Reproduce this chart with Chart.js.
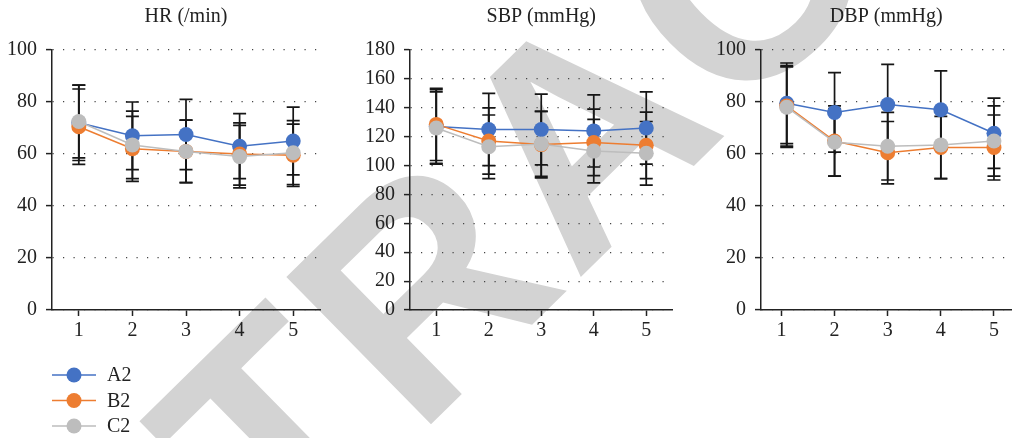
<!DOCTYPE html>
<html>
<head>
<meta charset="utf-8">
<script src="https://cdn.jsdelivr.net/npm/chart.js@4.4.1/dist/chart.umd.min.js"></script>
<style>
  body { margin: 0; background: #fff; }
  #wrap { position: relative; width: 1019px; height: 438px; overflow: hidden; background: #fff; }
  #stamp {
    position: absolute; left: 582px; top: 130px;
    transform: translate(-50%, -50%) rotate(-44.5deg);
    font: bold 300px "Liberation Sans", Arial, sans-serif;
    letter-spacing: 6px;
    line-height: 1; color: #d3d3d3; white-space: nowrap; z-index: 0;
  }
  canvas { position: absolute; top: 0; z-index: 1; }
</style>
</head>
<body>
<div id="wrap">
  <div id="stamp">RETRACTED</div>
  <canvas id="hr" width="340" height="438" style="left:0px"></canvas>
  <canvas id="sbp" width="340" height="340" style="left:340px"></canvas>
  <canvas id="dbp" width="339" height="340" style="left:680px"></canvas>
</div>
<script>
// time points
const timePoints = [1, 2, 3, 4, 5];
const dbpX = [1.1, 2, 3, 4, 5];   // first DBP group is drawn a bit right of tick 1
const seriesNames = ['A2', 'B2', 'C2'];
const seriesColors = ['#4472c4', '#ed7d31', '#bdbdbd'];

// HR (/min), mean and SD
const hrA2 = [72, 67, 67.5, 63, 65];
const hrA2Sd = [14.5, 13, 13.5, 12.5, 13];
const hrB2 = [70.5, 62, 61, 60, 59.5];
const hrB2Sd = [14.5, 12.5, 12, 12, 12];
const hrC2 = [72.5, 63.5, 61, 59, 60.5];
const hrC2Sd = [14, 13, 12, 12, 12.3];

// SBP (mmHg)
const sbpA2 = [127, 125, 125, 124, 126];
const sbpA2Sd = [25.5, 25, 24.5, 25, 25];
const sbpB2 = [128.5, 117, 114.5, 116, 114];
const sbpB2Sd = [25, 23, 23, 23, 23];
const sbpC2 = [126, 113, 115, 110, 108.5];
const sbpC2Sd = [25, 22, 22.5, 22, 22];

// DBP (mmHg)
const dbpA2 = [79.5, 76, 79, 77, 68];
const dbpA2Sd = [15.5, 15.3, 15.5, 15, 13.5];
const dbpB2 = [78.5, 65, 60.5, 62.5, 62.5];
const dbpB2Sd = [15.5, 13.5, 12, 12, 12.5];
const dbpC2 = [78, 64.5, 63, 63.5, 65];
const dbpC2Sd = [15.5, 13, 13, 13, 13.5];

const serif = '"Liberation Serif", "Times New Roman", serif';
const ink = '#222';

// error bars (mean ± SD) under the markers
const errorBars = {
  id: 'errorBars',
  beforeDatasetsDraw(chart) {
    const ctx = chart.ctx;
    const y = chart.scales.y;
    ctx.save();
    ctx.strokeStyle = '#161616';
    ctx.lineWidth = 1.7;
    chart.data.datasets.forEach((ds, i) => {
      chart.getDatasetMeta(i).data.forEach((pt, j) => {
        const v = ds.data[j].y, e = ds.sd[j];
        const top = y.getPixelForValue(v + e);
        const bot = y.getPixelForValue(v - e);
        ctx.beginPath();
        ctx.moveTo(pt.x, top); ctx.lineTo(pt.x, bot);
        ctx.moveTo(pt.x - 6.5, top); ctx.lineTo(pt.x + 6.5, top);
        ctx.moveTo(pt.x - 6.5, bot); ctx.lineTo(pt.x + 6.5, bot);
        ctx.stroke();
      });
    });
    ctx.restore();
  }
};

// title centred over the plot area
const panelTitle = {
  id: 'panelTitle',
  afterDraw(chart, args, opts) {
    const { ctx, chartArea } = chart;
    ctx.save();
    ctx.font = '20px ' + serif;
    ctx.fillStyle = ink;
    ctx.textAlign = 'center';
    ctx.textBaseline = 'middle';
    ctx.fillText(opts.text, (chartArea.left + chartArea.right) / 2 + (opts.dx || 0), 17);
    ctx.restore();
  }
};

// legend stacked under the first panel
const stackLegend = {
  id: 'stackLegend',
  afterDraw(chart) {
    const ctx = chart.ctx;
    ctx.save();
    chart.data.datasets.forEach((ds, i) => {
      const yy = 375 + i * 25.5;
      ctx.strokeStyle = ds.borderColor;
      ctx.lineWidth = 1.5;
      ctx.beginPath(); ctx.moveTo(52, yy); ctx.lineTo(96, yy); ctx.stroke();
      ctx.fillStyle = ds.backgroundColor;
      ctx.beginPath(); ctx.arc(74, yy, 7.5, 0, Math.PI * 2); ctx.fill();
      ctx.fillStyle = ink;
      ctx.font = '20px ' + serif;
      ctx.textBaseline = 'middle';
      ctx.fillText(ds.label, 107, yy + 1);
    });
    ctx.restore();
  }
};

function series(xs, means, sds, idx) {
  return {
    label: seriesNames[idx],
    data: means.map((m, k) => ({ x: xs[k], y: m })),
    sd: sds,
    borderColor: seriesColors[idx],
    backgroundColor: seriesColors[idx],
    borderWidth: 1.5,
    pointRadius: 7.5,
    pointBorderWidth: 0,
    pointHoverRadius: 7.5,
    order: 2 - idx
  };
}

function makePanel(id, title, yMax, xMin, xMax, yWidth, pad, datasets, extra) {
  return new Chart(document.getElementById(id), {
    type: 'line',
    data: { datasets },
    options: {
      responsive: false,
      animation: false,
      layout: { padding: pad },
      plugins: {
        legend: { display: false },
        tooltip: { enabled: false },
        panelTitle: { text: title }
      },
      scales: {
        x: {
          type: 'linear', min: xMin, max: xMax,
          afterBuildTicks(scale) { scale.ticks = timePoints.map(v => ({ value: v })); },
          ticks: { color: ink, font: { family: serif, size: 20 }, padding: 3, maxRotation: 0, autoSkip: false },
          grid: { drawOnChartArea: false, tickLength: 6, tickColor: ink, tickWidth: 1.5 },
          border: { color: ink, width: 1.5 },
          afterFit(scale) { scale.height = 30; }
        },
        y: {
          min: 0, max: yMax,
          ticks: { stepSize: 20, color: ink, font: { family: serif, size: 20 }, padding: 9 },
          grid: { color: '#444', lineWidth: 1.2, tickLength: 6, tickColor: ink, tickWidth: 1.5 },
          border: { color: ink, width: 1.5, dash: [1.2, 9.3] },
          afterFit(scale) { scale.width = yWidth; }
        }
      }
    },
    plugins: [errorBars, panelTitle].concat(extra || [])
  });
}

makePanel('hr', 'HR (/min)', 100, 0.5, 5.5, 52,
  { top: 50, right: 20, bottom: 98, left: 0 },
  [series(timePoints, hrA2, hrA2Sd, 0), series(timePoints, hrB2, hrB2Sd, 1), series(timePoints, hrC2, hrC2Sd, 2)],
  [stackLegend]);

makePanel('sbp', 'SBP (mmHg)', 180, 0.5, 5.5, 70,
  { top: 50, right: 3, bottom: 0, left: 0 },
  [series(timePoints, sbpA2, sbpA2Sd, 0), series(timePoints, sbpB2, sbpB2Sd, 1), series(timePoints, sbpC2, sbpC2Sd, 2)]);

makePanel('dbp', 'DBP (mmHg)', 100, 0.616, 5.33, 81,
  { top: 50, right: 0, bottom: 0, left: 0 },
  [series(dbpX, dbpA2, dbpA2Sd, 0), series(dbpX, dbpB2, dbpB2Sd, 1), series(dbpX, dbpC2, dbpC2Sd, 2)]);
</script>
</body>
</html>
